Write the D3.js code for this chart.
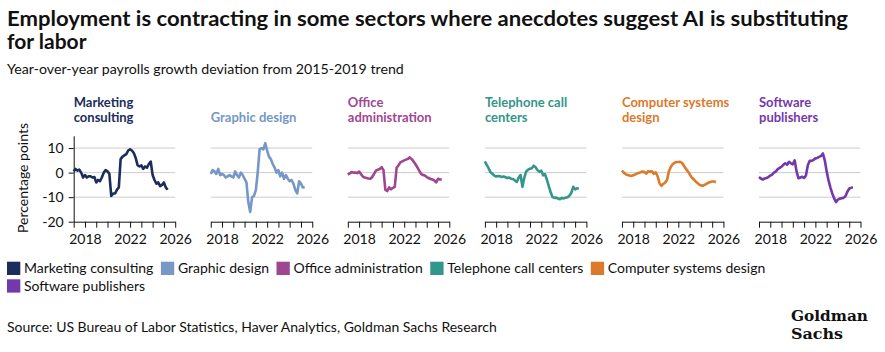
<!DOCTYPE html>
<html>
<head>
<meta charset="utf-8">
<script src="https://cdn.jsdelivr.net/npm/d3@7"></script>
<style>
  body { margin: 0; background: #fff; }
  text { font-family: Lato, "Open Sans", sans-serif; fill: #111; }
</style>
</head>
<body>
<svg id="chart" width="885" height="352"></svg>
<script>
// sector names, as in legend and panel titles
var sectors = ["Marketing consulting", "Graphic design", "Office administration",
  "Telephone call centers", "Computer systems design", "Software publishers"];
var panelTitles = [["Marketing", "consulting"], ["Graphic design"], ["Office", "administration"],
  ["Telephone call", "centers"], ["Computer systems", "design"], ["Software", "publishers"]];
var colors = ["#1b2d5c", "#7697c7", "#9f4690", "#33968a", "#dc7a2b", "#7438ad"];

// bi-monthly readings starting Jan 2017 (percentage points)
var marketing = [0.5, 1.5, 0.8, 1.2, 0, -2, -1, -2, -1.5, -1.5, -2, -1.8, -4, -3, -3.5, -2, 0, 1, 0.5, -0.5,
  -9.5, -8.5, -8.5, -7, -6, 5.5, 6.5, 7, 7.5, 9, 9.5, 9, 8, 6, 3, 2.5, 3, 1.5, 2.5, 2,
  3.5, 4.5, -1, -3, -4.5, -4, -5.5, -5, -4, -6, -7];
var graphic = [-0.5, 1, 0.5, -0.5, 1.5, -1, -0.5, -1, -2, -1.5, -1, -1.5, -2, 0.5, -1, -2, 0, -1, -2.5, -4,
  -12, -16, -10, -9.5, -7, 0, 9.5, 10, 9.5, 12, 9, 6.5, 5.5, 3.5, 2, 0, 1, -1.5, 0, -2.5,
  -1, -2.5, -3.5, -3, -4.5, -7, -8.5, -3.5, -4.5, -6, -6];
var office = [-0.8, -0.3, 0.2, 0, 0, -0.2, 0.4, -0.6, -1.6, -2, -2.2, -2.4, -2.5, -1.8, -0.5, 0.8, 1.2, 1.5, 2.2, 1,
  -7, -7.5, -6, -6.8, -6.2, -5.8, 2, 3, 4.2, 4.6, 5, 5.3, 5.6, 6.2, 5.5, 4.5, 3.4, 2.2, 0.8, -0.5,
  -1, -1.2, -1.8, -2.2, -2.6, -2.8, -3.2, -4, -2.5, -2.8, -2.7];
var telephone = [4.6, 3.2, 1.8, 0.2, -0.5, -1.2, -1.6, -1.4, -1.5, -1.8, -1.6, -1.9, -2.2, -2, -2.5, -2.6, -3.2, -3.8, -2, -1,
  -5.8, -2, 0.5, 1.2, 1.6, 1.8, 2.8, 2.2, 1, 0.3, 0.8, -1.1, -0.6, -2.8, -5.5, -8, -10, -10.3, -10.2, -10.6,
  -10.8, -10.3, -10.5, -10.2, -10, -9.4, -8.2, -5.8, -6.8, -6.4, -6.6];
var computer = [0.8, 0, -0.6, -1, -1.2, -1.4, -1.1, -0.8, -0.4, -0.2, 0.2, 0.4, 0.2, -0.4, 0.6, 0.4, 0.5, -0.5, 0.1, -1.5,
  -4.3, -5.4, -4.6, -4, -3, 0.5, 2.3, 3.4, 4, 4.3, 4.3, 4.4, 4, 2.8, 1.6, 0.6, -0.6, -1.8, -2.6, -3.4,
  -4.1, -4.8, -5.2, -5.4, -5, -4.6, -4.1, -3.8, -3.6, -3.6, -3.9];
var software = [-1.8, -2.4, -2.8, -2.4, -2.2, -1.8, -1.2, -0.8, 0, 0.5, 1.4, 1.9, 2.4, 3.2, 3.8, 3.2, 4.4, 3.8, 3.4, 5,
  0.5, -2.3, -2, -1.7, -2.2, -1.2, 3, 4.8, 4.8, 5.2, 5.8, 6, 6.4, 6.8, 7.8, 5, 0.5, -3, -6, -8.5,
  -10.5, -12, -11, -10.6, -10.4, -10.3, -9.6, -7.8, -6.5, -6.2, -5.9];
var series = [marketing, graphic, office, telephone, computer, software];

var yTicks = [-20, -10, 0, 10];
var gridTicks = [-10, 0, 10];
var xLabelYears = [2018, 2022, 2026];

var svg = d3.select("#chart");

// titles
svg.append("text").attr("x", 7).attr("y", 26)
  .attr("textLength", 841).attr("lengthAdjust", "spacingAndGlyphs")
  .style("font-size", "21px").style("font-weight", 700)
  .text("Employment is contracting in some sectors where anecdotes suggest AI is substituting");
svg.append("text").attr("x", 7).attr("y", 49)
  .style("font-size", "21px").style("font-weight", 700)
  .text("for labor");
svg.append("text").attr("x", 7).attr("y", 74)
  .style("font-size", "14.2px")
  .text("Year-over-year payrolls growth deviation from 2015-2019 trend");

// shared scales
var panelW = 101.5, panelStep = 137.06, firstX = 73.7;
var y = d3.scaleLinear().domain([-20, 15]).range([221.7, 135.8]);
var dates = d3.range(marketing.length).map(function (i) { return new Date(2017, 2 * i, 1); });

svg.append("text")
  .attr("transform", "translate(28," + 178 + ") rotate(-90)")
  .attr("text-anchor", "middle")
  .style("font-size", "14px")
  .text("Percentage points");

series.forEach(function (vals, k) {
  var x0 = firstX + panelStep * k;
  var x = d3.scaleTime()
    .domain([new Date(2017, 0, 1), new Date(2026, 0, 1)])
    .range([0, panelW]);
  var g = svg.append("g").attr("transform", "translate(" + x0 + ",0)");

  // panel title, bottom aligned
  var lines = panelTitles[k];
  lines.forEach(function (t, j) {
    g.append("text")
      .attr("x", 0)
      .attr("y", 121.7 - (lines.length - 1 - j) * 15)
      .style("font-size", "13px").style("font-weight", 700)
      .style("fill", colors[k])
      .text(t);
  });

  // grid lines
  g.append("g").selectAll("line").data(gridTicks).enter().append("line")
    .attr("x1", 0).attr("x2", panelW)
    .attr("y1", function (d) { return y(d); }).attr("y2", function (d) { return y(d); })
    .attr("stroke", "#cccccc").attr("stroke-width", 1);

  // x axis
  var xAxis = d3.axisBottom(x)
    .ticks(d3.timeYear.every(1))
    .tickSize(6).tickSizeOuter(0)
    .tickFormat(function (d) {
      return xLabelYears.indexOf(d.getFullYear()) >= 0 ? d.getFullYear() : "";
    });
  var ax = g.append("g").attr("transform", "translate(0," + y(-20) + ")").call(xAxis);
  ax.selectAll("text").style("font-size", "14px").style("font-family", "Lato, sans-serif")
    .attr("dy", "0.95em").attr("fill", "#111");
  ax.selectAll("line, path").attr("stroke", "#111");

  // y axis on first panel only
  if (k === 0) {
    var ya = g.append("g").call(d3.axisLeft(y).tickValues(yTicks).tickSize(5).tickSizeOuter(0)
      .tickFormat(function (d) { return String(d); }));
    ya.selectAll("text").style("font-size", "14px").style("font-family", "Lato, sans-serif")
      .attr("fill", "#111").attr("x", -10);
    ya.selectAll("line, path").attr("stroke", "#111");
  }

  var line = d3.line()
    .x(function (d, i) { return x(dates[i]); })
    .y(function (d) { return y(d); });
  g.append("path").datum(vals)
    .attr("d", line)
    .attr("fill", "none")
    .attr("stroke", colors[k])
    .attr("stroke-width", 2.6)
    .attr("stroke-linejoin", "round");
});

// legend, flowing left to right and wrapping
var legend = svg.append("g");
var lx = 7, ly = 261.7;
sectors.forEach(function (name, k) {
  var item = legend.append("g");
  item.append("rect").attr("width", 13.3).attr("height", 13.3).attr("fill", colors[k]);
  var t = item.append("text").attr("x", 17).attr("y", 11.5)
    .style("font-size", "14px").text(name);
  var w = 17 + t.node().getComputedTextLength() + 7.5;
  if (lx + w > 880) { lx = 7; ly += 17.6; }
  item.attr("transform", "translate(" + lx + "," + ly + ")");
  lx += w;
});

svg.append("text").attr("x", 7).attr("y", 332)
  .style("font-size", "14px")
  .text("Source: US Bureau of Labor Statistics, Haver Analytics, Goldman Sachs Research");

// logo
var logo = svg.append("g").attr("transform", "translate(791,0)");
logo.append("text").attr("x", 0).attr("y", 321)
  .attr("textLength", 77).attr("lengthAdjust", "spacingAndGlyphs")
  .style("font-family", "'DejaVu Serif Condensed', 'DejaVu Serif', serif").style("font-weight", 700)
  .style("font-size", "15px")
  .text("Goldman");
logo.append("text").attr("x", 0).attr("y", 339)
  .attr("textLength", 52).attr("lengthAdjust", "spacingAndGlyphs")
  .style("font-family", "'DejaVu Serif Condensed', 'DejaVu Serif', serif").style("font-weight", 700)
  .style("font-size", "15px")
  .text("Sachs");
</script>
</body>
</html>
